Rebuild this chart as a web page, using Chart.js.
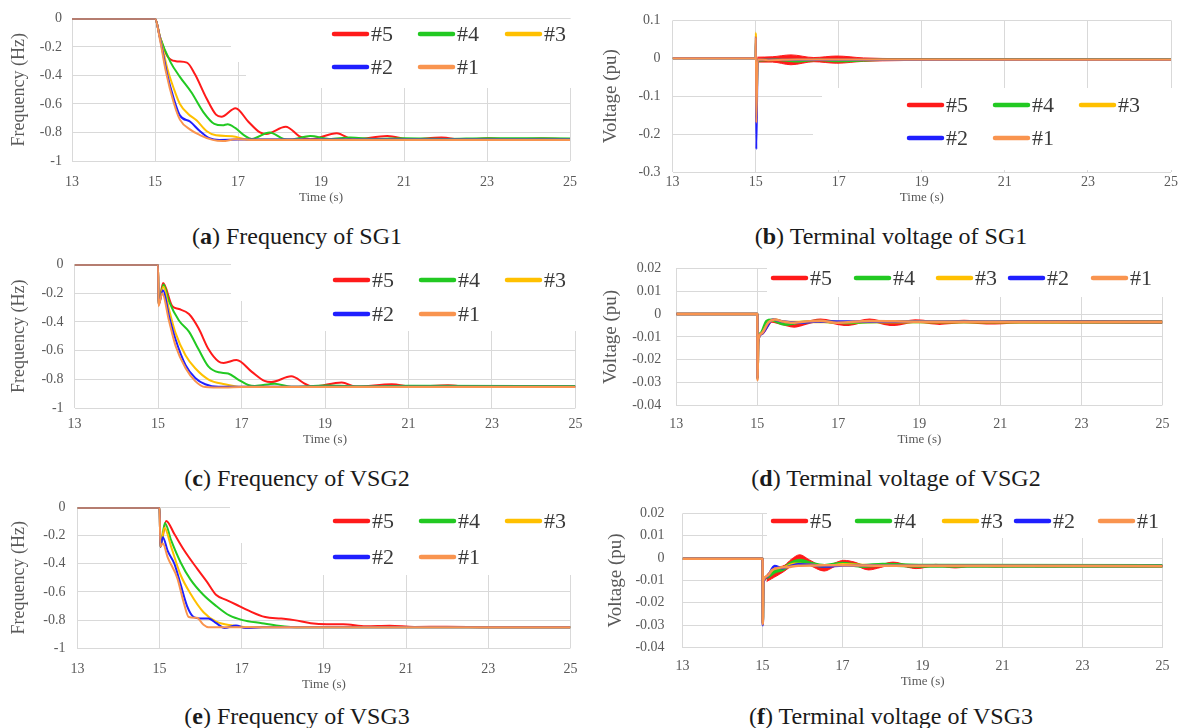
<!DOCTYPE html>
<html>
<head>
<meta charset="utf-8">
<script src="https://cdn.jsdelivr.net/npm/chart.js@4.4.1/dist/chart.umd.min.js"></script>
<style>
  body { margin: 0; background: #fff; }
  #page { position: relative; width: 1180px; height: 728px; overflow: hidden; font-family: "Liberation Serif", serif; }
  #page canvas { position: absolute; }
  .cap { position: absolute; font-size: 24px; color: #1a1a1a; white-space: nowrap; transform: translate(-50%, -50%); }
</style>
</head>
<body>
<div id="page"></div>
<script>
// Legendas e cores das curvas
const seriesLabels = ['#1', '#2', '#3', '#4', '#5'];
const seriesColors = ['#f9944f', '#1f1fff', '#ffc000', '#22c922', '#ff1a1a'];

// (a) Frequency of SG1  [tempo (s), Hz]
const aF5 = [[13,0],[15,0],[15.12,-0.13],[15.3,-0.265],[15.5,-0.30],[15.77,-0.31],[15.96,-0.39],[16.24,-0.56],[16.47,-0.675],[16.6,-0.69],[16.94,-0.63],[17.25,-0.725],[17.53,-0.80],[17.68,-0.81],[18.15,-0.76],[18.5,-0.83],[18.75,-0.848],[19.38,-0.805],[19.78,-0.85],[20.6,-0.825],[21.15,-0.85],[21.9,-0.835],[22.45,-0.852],[23.05,-0.84],[23.6,-0.85],[24.3,-0.843],[25,-0.848]];
const aF4 = [[13,0],[15,0],[15.12,-0.13],[15.38,-0.31],[15.6,-0.41],[15.88,-0.52],[16.16,-0.655],[16.43,-0.74],[16.63,-0.75],[16.75,-0.742],[16.94,-0.77],[17.15,-0.82],[17.33,-0.845],[17.76,-0.80],[18.1,-0.845],[18.27,-0.85],[18.74,-0.825],[19.2,-0.845],[19.7,-0.835],[20.3,-0.845],[21,-0.84],[22,-0.845],[23,-0.84],[25,-0.842]];
const aF3 = [[13,0],[15,0],[15.12,-0.13],[15.3,-0.355],[15.45,-0.49],[15.6,-0.60],[15.8,-0.67],[16.0,-0.715],[16.24,-0.79],[16.47,-0.82],[16.86,-0.826],[17.25,-0.85],[18,-0.85],[25,-0.85]];
const aF2 = [[13,0],[15,0],[15.12,-0.14],[15.3,-0.40],[15.45,-0.56],[15.6,-0.68],[15.85,-0.725],[16.08,-0.79],[16.31,-0.84],[16.55,-0.852],[17,-0.85],[25,-0.85]];
const aF1 = [[13,0],[15,0],[15.12,-0.15],[15.26,-0.37],[15.45,-0.59],[15.6,-0.71],[15.85,-0.78],[16.08,-0.818],[16.39,-0.852],[16.63,-0.86],[16.94,-0.848],[17.3,-0.852],[25,-0.852]];

// (b) Terminal voltage of SG1  [tempo (s), pu]
const bV5 = [[13,0],[15,0],[15.005,0.06],[15.015,-0.17],[15.04,-0.003],[25,-0.003]];
const bV5hi = [[15.04,0.003],[15.4,0.004],[15.85,0.009],[16.4,0.002],[16.95,0.006],[17.6,0.001],[18.5,-0.001],[19.5,-0.002],[25,-0.003]];
const bV5lo = [[15.04,-0.010],[15.4,-0.010],[15.85,-0.017],[16.4,-0.009],[16.95,-0.013],[17.6,-0.008],[18.5,-0.006],[19.5,-0.004],[25,-0.004]];
const bV4 = [[13,0],[15,0],[15.005,0.05],[15.015,-0.15],[15.05,-0.006],[15.5,-0.004],[16,-0.008],[16.5,-0.004],[17,-0.007],[18,-0.004],[19,-0.004],[25,-0.004]];
const bV3 = [[13,0],[15,0],[15.005,0.068],[15.015,-0.16],[15.05,-0.004],[16,-0.004],[25,-0.004]];
const bV2 = [[13,0],[15,0],[15.005,0.055],[15.015,-0.24],[15.05,-0.004],[25,-0.004]];
const bV1 = [[13,0],[15,0],[15.005,0.055],[15.015,-0.17],[15.05,-0.003],[15.3,-0.005],[16,-0.003],[25,-0.004]];

// (c) Frequency of VSG2
const cF5 = [[13,0],[15,0],[15.01,-0.28],[15.12,-0.13],[15.34,-0.29],[15.5,-0.31],[15.74,-0.345],[15.97,-0.444],[16.21,-0.59],[16.45,-0.675],[16.57,-0.685],[16.88,-0.665],[17.24,-0.745],[17.55,-0.81],[17.71,-0.818],[18.19,-0.778],[18.54,-0.833],[18.7,-0.85],[19.4,-0.82],[19.75,-0.85],[20.6,-0.833],[21.1,-0.85],[21.95,-0.84],[22.5,-0.852],[23.15,-0.845],[24,-0.85],[25,-0.85]];
const cF4 = [[13,0],[15,0],[15.01,-0.28],[15.13,-0.14],[15.26,-0.255],[15.5,-0.39],[15.74,-0.467],[15.97,-0.59],[16.21,-0.711],[16.45,-0.75],[16.68,-0.758],[16.92,-0.80],[17.16,-0.838],[17.32,-0.845],[17.79,-0.829],[18.19,-0.85],[19,-0.842],[20,-0.847],[21,-0.843],[25,-0.845]];
const cF3 = [[13,0],[15,0],[15.01,-0.28],[15.13,-0.155],[15.26,-0.31],[15.42,-0.478],[15.66,-0.633],[15.89,-0.722],[16.21,-0.80],[16.6,-0.833],[17.0,-0.851],[25,-0.85]];
const cF2 = [[13,0],[15,0],[15.01,-0.28],[15.12,-0.18],[15.26,-0.356],[15.42,-0.522],[15.66,-0.70],[15.89,-0.789],[16.13,-0.833],[16.45,-0.851],[25,-0.851]];
const cF1 = [[13,0],[15,0],[15.01,-0.29],[15.1,-0.20],[15.26,-0.39],[15.42,-0.567],[15.66,-0.722],[15.89,-0.811],[16.13,-0.852],[16.6,-0.856],[17,-0.852],[25,-0.852]];

// (d) Terminal voltage of VSG2
const dV5 = [[13,0],[15,0],[15.005,-0.028],[15.02,-0.012],[15.1,-0.0086],[15.35,-0.003],[15.6,-0.004],[15.91,-0.0052],[16.31,-0.0034],[16.56,-0.0027],[17.2,-0.0045],[17.77,-0.0027],[18.33,-0.0045],[18.9,-0.0031],[19.5,-0.004],[20.1,-0.0033],[20.8,-0.0038],[21.5,-0.0034],[25,-0.0035]];
const dV4 = [[13,0],[15,0],[15.005,-0.028],[15.02,-0.012],[15.1,-0.008],[15.23,-0.0031],[15.35,-0.0026],[15.67,-0.0045],[15.99,-0.0038],[16.5,-0.0032],[17.2,-0.0038],[18,-0.0034],[25,-0.0035]];
const dV3 = [[13,0],[15,0],[15.005,-0.028],[15.02,-0.012],[15.1,-0.0085],[15.3,-0.0033],[15.45,-0.0025],[15.7,-0.0035],[16.2,-0.0035],[25,-0.0035]];
const dV2 = [[13,0],[15,0],[15.005,-0.028],[15.02,-0.012],[15.1,-0.0088],[15.39,-0.0024],[15.6,-0.0032],[16.0,-0.0038],[16.5,-0.0033],[25,-0.0035]];
const dV1 = [[13,0],[15,0],[15.005,-0.029],[15.02,-0.012],[15.1,-0.0086],[15.27,-0.0038],[15.43,-0.0024],[15.59,-0.0031],[15.83,-0.0038],[16.15,-0.0034],[16.56,-0.0029],[16.96,-0.0038],[17.77,-0.003],[19,-0.0034],[25,-0.0035]];

// (e) Frequency of VSG3
const eF5 = [[13,0],[15,0],[15.02,-0.28],[15.16,-0.096],[15.36,-0.189],[15.59,-0.30],[15.91,-0.433],[16.15,-0.527],[16.38,-0.622],[16.62,-0.656],[16.86,-0.689],[17.17,-0.733],[17.57,-0.778],[17.96,-0.789],[18.28,-0.80],[18.68,-0.822],[19.07,-0.829],[19.47,-0.829],[20.02,-0.844],[20.6,-0.84],[21.2,-0.848],[22,-0.847],[23,-0.85],[25,-0.85]];
const eF4 = [[13,0],[15,0],[15.02,-0.28],[15.13,-0.111],[15.28,-0.233],[15.51,-0.389],[15.75,-0.511],[16.07,-0.622],[16.38,-0.70],[16.7,-0.767],[17.02,-0.80],[17.49,-0.822],[17.89,-0.84],[18.44,-0.851],[25,-0.851]];
const eF3 = [[13,0],[15,0],[15.02,-0.28],[15.12,-0.144],[15.28,-0.278],[15.51,-0.478],[15.75,-0.611],[16.07,-0.744],[16.38,-0.811],[16.78,-0.838],[17.17,-0.851],[25,-0.851]];
const eF2 = [[13,0],[15,0],[15.02,-0.28],[15.08,-0.211],[15.2,-0.311],[15.36,-0.40],[15.51,-0.544],[15.67,-0.70],[15.83,-0.778],[15.99,-0.789],[16.19,-0.789],[16.38,-0.822],[16.58,-0.856],[16.86,-0.838],[17.09,-0.856],[17.5,-0.851],[25,-0.851]];
const eF1 = [[13,0],[15,0],[15.02,-0.278],[15.08,-0.256],[15.2,-0.356],[15.43,-0.50],[15.59,-0.678],[15.71,-0.778],[15.91,-0.784],[16.07,-0.833],[16.19,-0.851],[25,-0.851]];

// (f) Terminal voltage of VSG3
const fV5 = [[13,-0.0003],[15,-0.0003],[15.005,-0.029],[15.02,-0.011],[15.1,-0.009],[15.23,-0.0067],[15.39,-0.0067],[15.55,-0.0045],[15.72,-0.002],[15.93,0.0],[16.17,-0.002],[16.54,-0.0047],[16.8,-0.003],[17.03,-0.0017],[17.3,-0.0025],[17.65,-0.0045],[17.95,-0.0035],[18.26,-0.0023],[18.6,-0.0035],[18.84,-0.0042],[19.33,-0.0031],[19.82,-0.004],[20.31,-0.0031],[20.8,-0.0038],[21.4,-0.0032],[22,-0.0037],[23,-0.0034],[25,-0.0035]];
const fV5hi = [[15.1,-0.0075],[15.3,-0.0045],[15.55,-0.0032],[15.72,-0.0005],[15.93,0.0015],[16.17,-0.0008],[16.54,-0.0037],[16.8,-0.0022],[17.03,-0.001],[17.3,-0.0018],[17.65,-0.0038],[17.95,-0.0029],[18.26,-0.0018],[18.6,-0.003],[18.84,-0.0038],[19.33,-0.0028],[19.82,-0.0037],[20.31,-0.0029],[21,-0.0034],[25,-0.0034]];
const fV5lo = [[15.1,-0.0105],[15.3,-0.0085],[15.55,-0.0058],[15.72,-0.0035],[15.93,-0.0018],[16.17,-0.0032],[16.54,-0.0058],[16.8,-0.0038],[17.03,-0.0025],[17.3,-0.0032],[17.65,-0.0053],[17.95,-0.0042],[18.26,-0.0029],[18.6,-0.004],[18.84,-0.0047],[19.33,-0.0035],[19.82,-0.0044],[20.31,-0.0034],[21,-0.0038],[25,-0.0036]];
const fV4 = [[13,-0.0003],[15,-0.0003],[15.005,-0.029],[15.02,-0.011],[15.1,-0.0085],[15.3,-0.006],[15.5,-0.005],[15.7,-0.0025],[15.95,-0.0012],[16.2,-0.0025],[16.55,-0.0035],[17.0,-0.0025],[17.5,-0.0035],[18,-0.003],[19,-0.0034],[25,-0.0035]];
const fV3 = [[13,-0.0003],[15,-0.0003],[15.005,-0.029],[15.02,-0.011],[15.1,-0.0082],[15.3,-0.0045],[15.5,-0.0042],[15.8,-0.0025],[16.1,-0.0028],[16.6,-0.0035],[17,-0.0028],[18,-0.0034],[25,-0.0035]];
const fV2 = [[13,-0.0003],[15,-0.0003],[15.005,-0.030],[15.02,-0.011],[15.1,-0.0085],[15.3,-0.0035],[15.5,-0.0045],[15.7,-0.0035],[15.9,-0.0028],[16.2,-0.003],[16.6,-0.0038],[17,-0.0033],[18,-0.0034],[25,-0.0035]];
const fV1 = [[13,-0.0003],[15,-0.0003],[15.005,-0.0296],[15.02,-0.010],[15.11,-0.0081],[15.23,-0.0054],[15.39,-0.0044],[15.64,-0.004],[15.89,-0.0034],[16.3,-0.0033],[17,-0.0032],[18,-0.0034],[25,-0.0036]];

const timeTicks = { min: 13, max: 25, step: 2 };

// Layout de cada painel (coordenadas da página)
const panels = [
  { tag: 'a', caption: ' Frequency of SG1', capX: 297, capY: 236,
    box: [0, 0, 590, 205], area: [72, 17, 583, 161], y: [-1, 0, 0.2], yTitle: 'Frequency (Hz)', yPad: 10, xPad: 13, titleX: 19,
    series: [aF1, aF2, aF3, aF4, aF5], widths: [2, 2, 2, 2, 2],
    masks: [[231, 19, 585, 62], [246, 62, 585, 88]],
    legend: [[332, 34], [418, 34], [505, 34], [332, 67], [418, 67]] },
  { tag: 'b', caption: ' Terminal voltage of SG1', capX: 891, capY: 236,
    box: [592, 0, 588, 205], area: [672.6, 16, 1171, 172], y: [-0.3, 0.1, 0.1], yTitle: 'Voltage (pu)', yPad: 12, xPad: 2, titleX: 611,
    series: [bV1, bV2, bV3, bV4, bV5], widths: [2, 2, 2, 2.5, 2], band: [bV5hi, bV5lo],
    masks: [[822, 88, 1173, 113], [813, 113, 1173, 170]],
    legend: [[907, 105], [993, 105], [1079, 105], [907, 138], [993, 138]] },
  { tag: 'c', caption: ' Frequency of VSG2', capX: 297, capY: 478,
    box: [0, 245, 590, 202], area: [74.6, 258.3, 580.6, 408.3], y: [-1, 0, 0.2], yTitle: 'Frequency (Hz)', yPad: 11, xPad: 7.6, titleX: 19,
    series: [cF1, cF2, cF3, cF4, cF5], widths: [2, 2, 2, 2, 2],
    masks: [[231, 260, 582, 301], [248, 301, 582, 331]],
    legend: [[333, 280], [419, 280], [505, 280], [333, 314], [419, 314]] },
  { tag: 'd', caption: ' Terminal voltage of VSG2', capX: 896, capY: 478,
    box: [592, 245, 588, 202], area: [676.3, 258.3, 1172.5, 405.3], y: [-0.04, 0.02, 0.01], yTitle: 'Voltage (pu)', yPad: 15, xPad: 10.6, titleX: 611,
    series: [dV1, dV2, dV3, dV4, dV5], widths: [2.5, 2.5, 2.5, 3, 3.5],
    masks: [[767, 260, 1174, 297]],
    legend: [[771, 278], [854, 278], [936, 278], [1008, 278], [1091, 278]] },
  { tag: 'e', caption: ' Frequency of VSG3', capX: 297, capY: 716,
    box: [0, 487, 590, 205], area: [77.4, 498.3, 583, 648.3], y: [-1, 0, 0.2], yTitle: 'Frequency (Hz)', yPad: 12, xPad: 12.6, titleX: 19,
    series: [eF1, eF2, eF3, eF4, eF5], widths: [2, 2, 2, 2, 2],
    masks: [[230, 500, 585, 543], [247, 543, 585, 575]],
    legend: [[333, 521], [419, 521], [505, 521], [333, 557], [419, 557]] },
  { tag: 'f', caption: ' Terminal voltage of VSG3', capX: 891, capY: 716,
    box: [592, 487, 588, 202], area: [682.6, 498.7, 1171.5, 647.5], y: [-0.04, 0.02, 0.01], yTitle: 'Voltage (pu)', yPad: 18, xPad: 10.4, titleX: 616,
    series: [fV1, fV2, fV3, fV4, fV5], widths: [2.5, 2.5, 2.5, 4, 2], band: [fV5hi, fV5lo],
    masks: [[767, 500, 1173, 538]],
    legend: [[771, 521], [855, 521], [942, 521], [1014, 521], [1098, 521]] }
];

Chart.defaults.font.family = '"Liberation Serif", serif';
Chart.defaults.color = '#595959';

const toXY = arr => arr.map(p => ({ x: p[0], y: p[1] }));

// Plugin: caixa branca da legenda (cobre parte da grade) e legenda desenhada
function makeDecor(p) {
  const ox = p.box[0], oy = p.box[1];
  return {
    id: 'decor' + p.tag,
    beforeDatasetsDraw(chart) {
      const ctx = chart.ctx;
      ctx.save();
      ctx.fillStyle = '#fff';
      p.masks.forEach(m => ctx.fillRect(m[0] - ox, m[1] - oy, m[2] - m[0], m[3] - m[1]));
      ctx.restore();
    },
    afterDraw(chart) {
      const ctx = chart.ctx;
      ctx.save();
      ctx.font = '22px "Liberation Serif", serif';
      ctx.textBaseline = 'middle';
      // ordem da legenda: #5 #4 #3 #2 #1
      [4, 3, 2, 1, 0].forEach((si, k) => {
        const x = p.legend[k][0] - ox, y = p.legend[k][1] - oy;
        ctx.strokeStyle = seriesColors[si];
        ctx.lineWidth = 4.5;
        ctx.lineCap = 'round';
        ctx.beginPath();
        ctx.moveTo(x + 2, y);
        ctx.lineTo(x + 35, y);
        ctx.stroke();
        ctx.fillStyle = '#3a3a3a';
        ctx.fillText(seriesLabels[si], x + 39, y + 1);
      });
      ctx.restore();
    }
  };
}

function drawPanel(p) {
  const page = document.getElementById('page');
  const canvas = document.createElement('canvas');
  canvas.width = p.box[2];
  canvas.height = p.box[3];
  canvas.style.left = p.box[0] + 'px';
  canvas.style.top = p.box[1] + 'px';
  page.appendChild(canvas);

  const cap = document.createElement('div');
  cap.className = 'cap';
  cap.style.left = p.capX + 'px';
  cap.style.top = p.capY + 'px';
  cap.innerHTML = '(<b>' + p.tag + '</b>)' + p.caption;
  page.appendChild(cap);

  // antes e durante o salto em t=15 todas as curvas ficam com a espessura da #1
  const thin = p.widths[0];
  const datasets = p.series.map((s, i) => ({
    label: seriesLabels[i],
    data: toXY(s),
    borderColor: seriesColors[i],
    borderWidth: p.widths[i],
    segment: { borderWidth: c => (c.p0.parsed.x < 15.03 ? Math.min(thin, p.widths[i]) : p.widths[i]) },
    pointRadius: 0,
    fill: false,
    cubicInterpolationMode: 'monotone'
  }));
  if (p.band) {
    datasets.push({ label: 'hi', data: toXY(p.band[0]), borderColor: seriesColors[4], borderWidth: 1,
      pointRadius: 0, fill: false, cubicInterpolationMode: 'monotone' });
    datasets.push({ label: 'lo', data: toXY(p.band[1]), borderColor: seriesColors[4], borderWidth: 1,
      backgroundColor: seriesColors[4], pointRadius: 0, fill: '-1', cubicInterpolationMode: 'monotone' });
  }

  const yTitleSize = p.yTitle.startsWith('Freq') ? 18 : 19;
  const [L, T, R, B] = p.area;
  new Chart(canvas.getContext('2d'), {
    type: 'line',
    data: { datasets },
    plugins: [makeDecor(p)],
    options: {
      responsive: false,
      animation: false,
      events: [],
      layout: { padding: { left: 0, bottom: 0, top: T - p.box[1], right: p.box[0] + p.box[2] - R } },
      plugins: { legend: { display: false }, tooltip: { enabled: false } },
      scales: {
        x: {
          type: 'linear', min: timeTicks.min, max: timeTicks.max,
          ticks: { stepSize: timeTicks.step, padding: p.xPad, maxRotation: 0, autoSkip: false, font: { size: 14 }, color: '#595959' },
          grid: { color: '#d9d9d9', drawTicks: false },
          border: { display: false },
          title: { display: true, text: 'Time (s)', font: { size: 13 }, color: '#595959', padding: { top: 0, bottom: 0 } },
          afterFit: s => { s.height = p.box[1] + p.box[3] - B; }
        },
        y: {
          type: 'linear', min: p.y[0], max: p.y[1],
          ticks: { stepSize: p.y[2], padding: p.yPad, font: { size: 14 }, color: '#595959',
            callback: v => String(+v.toFixed(3)) },
          grid: { color: '#d9d9d9', drawTicks: false },
          border: { display: false },
          title: { display: true, text: p.yTitle, font: { size: yTitleSize }, color: '#595959',
            padding: { top: p.titleX - p.box[0] - yTitleSize * 0.6, bottom: 0 } },
          afterFit: s => { s.width = L - p.box[0]; }
        }
      }
    }
  });
}

panels.forEach(drawPanel);
</script>
</body>
</html>
